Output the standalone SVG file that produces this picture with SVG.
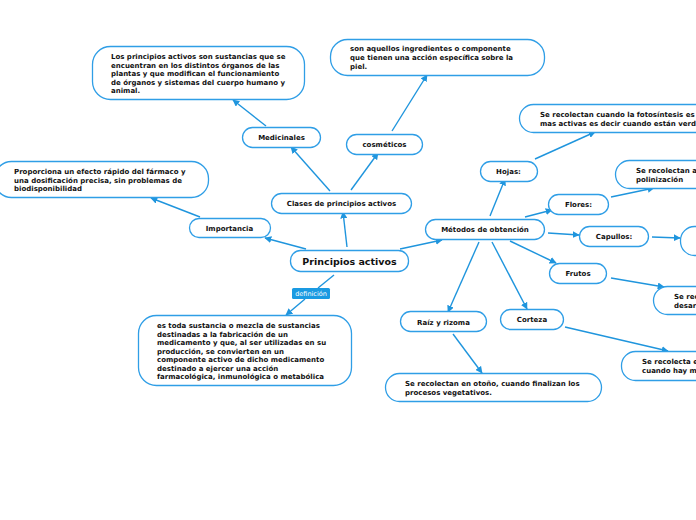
<svg xmlns="http://www.w3.org/2000/svg" width="696" height="520" viewBox="0 0 696 520">
<defs>
<marker id="ah" viewBox="0 0 10 10" refX="9" refY="5" markerWidth="7" markerHeight="7" markerUnits="userSpaceOnUse" orient="auto">
<path d="M0,0 L10,5 L0,10 z" fill="#1f95dd"/>
</marker>
<style>
.n{fill:#fff;stroke:#2f9ee6;stroke-width:1.3}
.t{font-family:"DejaVu Sans",Verdana,sans-serif;font-weight:bold;font-size:7px;fill:#111}
.c{text-anchor:middle}
.e{fill:none;stroke:#1f95dd;stroke-width:1.4;marker-end:url(#ah)}
</style>
</defs>
<rect width="696" height="520" fill="#fff"/>
<g id="connectors">
<line class="e" x1="347" y1="247" x2="343" y2="212"/>
<line class="e" x1="306" y1="249" x2="265" y2="238"/>
<line class="e" x1="400" y1="249" x2="442" y2="240"/>
<line x1="334" y1="275" x2="318" y2="288" stroke="#1f95dd" stroke-width="1.4"/>
<line class="e" x1="305" y1="299" x2="286" y2="315"/>
<line class="e" x1="330" y1="191" x2="291" y2="147"/>
<line class="e" x1="351" y1="190" x2="378" y2="153"/>
<line class="e" x1="266" y1="126" x2="233" y2="100"/>
<line class="e" x1="392" y1="131" x2="427" y2="75"/>
<line class="e" x1="200" y1="217" x2="151" y2="198"/>
<line class="e" x1="490" y1="216" x2="505" y2="179"/>
<line class="e" x1="535" y1="159" x2="595" y2="132"/>
<line class="e" x1="525" y1="217" x2="552" y2="210"/>
<line class="e" x1="611" y1="197" x2="654" y2="188"/>
<line class="e" x1="548" y1="233" x2="579" y2="235"/>
<line class="e" x1="652" y1="237" x2="680" y2="238"/>
<line class="e" x1="510" y1="241" x2="556" y2="263"/>
<line class="e" x1="611" y1="278" x2="664" y2="287"/>
<line class="e" x1="479" y1="242" x2="448" y2="312"/>
<line class="e" x1="492" y1="242" x2="527" y2="309"/>
<line class="e" x1="453" y1="334" x2="482" y2="373"/>
<line class="e" x1="565" y1="327" x2="668" y2="351"/>
</g>
<g id="principios">
<rect class="n" x="290.5" y="250.5" width="118" height="21" rx="10"/>
<text class="t c" x="349.5" y="265" style="font-size:9.5px">Principios activos</text>
</g>
<g id="definicion-label">
<rect x="292" y="288" width="38" height="11" rx="1.5" fill="#1a9ae2"/>
<text x="311" y="296" text-anchor="middle" font-family="DejaVu Sans,sans-serif" font-size="6.5" fill="#fff">definición</text>
</g>
<g id="clases">
<rect class="n" x="271.5" y="193.5" width="140" height="20" rx="10"/>
<text class="t c" x="341.5" y="206">Clases de principios activos</text>
</g>
<g id="medicinales">
<rect class="n" x="242.5" y="127.5" width="78" height="20" rx="10"/>
<text class="t c" x="281.5" y="140">Medicinales</text>
</g>
<g id="cosmeticos">
<rect class="n" x="346.5" y="134.5" width="76" height="20" rx="10"/>
<text class="t c" x="384.5" y="147">cosméticos</text>
</g>
<g id="medicinales-desc">
<rect class="n" x="92.5" y="46.5" width="212" height="53" rx="18"/>
<text class="t" x="111" y="59">Los principios activos son sustancias que se</text>
<text class="t" x="111" y="67.5">encuentran en los distintos órganos de las</text>
<text class="t" x="111" y="76">plantas y que modifican el funcionamiento</text>
<text class="t" x="111" y="84.5">de órganos y sistemas del cuerpo humano y</text>
<text class="t" x="111" y="93">animal.</text>
</g>
<g id="cosmeticos-desc">
<rect class="n" x="330.5" y="39.5" width="214" height="36" rx="17"/>
<text class="t" x="350" y="51">son aquellos ingredientes o componente</text>
<text class="t" x="350" y="60">que tienen una acción específica sobre la</text>
<text class="t" x="350" y="69">piel.</text>
</g>
<g id="importancia">
<rect class="n" x="189.5" y="218.5" width="81" height="19" rx="9.5"/>
<text class="t c" x="229.5" y="231">Importancia</text>
</g>
<g id="importancia-desc">
<rect class="n" x="-5.5" y="161.5" width="214" height="36" rx="17"/>
<text class="t" x="14" y="174">Proporciona un efecto rápido del fármaco y</text>
<text class="t" x="14" y="182.5">una dosificación precisa, sin problemas de</text>
<text class="t" x="14" y="191">biodisponibilidad</text>
</g>
<g id="definicion-desc">
<rect class="n" x="138.5" y="315.5" width="213" height="70" rx="18"/>
<text class="t" x="157" y="328">es toda sustancia o mezcla de sustancias</text>
<text class="t" x="157" y="336.5">destinadas a la fabricación de un</text>
<text class="t" x="157" y="345">medicamento y que, al ser utilizadas en su</text>
<text class="t" x="157" y="353.5">producción, se convierten en un</text>
<text class="t" x="157" y="362">componente activo de dicho medicamento</text>
<text class="t" x="157" y="370.5">destinado a ejercer una acción</text>
<text class="t" x="157" y="379">farmacológica, inmunológica o metabólica</text>
</g>
<g id="metodos">
<rect class="n" x="425.5" y="219.5" width="119" height="20" rx="10"/>
<text class="t c" x="485" y="232">Métodos de obtención</text>
</g>
<g id="hojas">
<rect class="n" x="480.5" y="161.5" width="57" height="20" rx="10"/>
<text class="t c" x="508.5" y="174">Hojas:</text>
</g>
<g id="hojas-desc">
<rect class="n" x="519.5" y="104.5" width="200" height="28" rx="14"/>
<text class="t" x="540" y="117">Se recolectan cuando la fotosíntesis es más</text>
<text class="t" x="540" y="126">mas activas es decir cuando están verdes</text>
</g>
<g id="flores">
<rect class="n" x="548.5" y="194.5" width="60" height="20" rx="10"/>
<text class="t c" x="578.5" y="207">Flores:</text>
</g>
<g id="flores-desc">
<rect class="n" x="615.5" y="160.5" width="120" height="28" rx="14"/>
<text class="t" x="636" y="173">Se recolectan antes de la</text>
<text class="t" x="636" y="182">polinización</text>
</g>
<g id="capullos">
<rect class="n" x="579.5" y="226.5" width="69" height="20" rx="10"/>
<text class="t c" x="614" y="239">Capullos:</text>
</g>
<g id="capullos-desc">
<rect class="n" x="680.5" y="226.5" width="60" height="29" rx="14"/>
</g>
<g id="frutos">
<rect class="n" x="549.5" y="263.5" width="57" height="20" rx="10"/>
<text class="t c" x="578" y="276">Frutos</text>
</g>
<g id="frutos-desc">
<rect class="n" x="653.5" y="286.5" width="120" height="28" rx="14"/>
<text class="t" x="674" y="299">Se recolectan</text>
<text class="t" x="674" y="308">desarrollados</text>
</g>
<g id="raiz">
<rect class="n" x="400.5" y="311.5" width="86" height="20" rx="10"/>
<text class="t c" x="443.5" y="324.5">Raíz y rizoma</text>
</g>
<g id="corteza">
<rect class="n" x="500.5" y="309.5" width="63" height="20" rx="10"/>
<text class="t c" x="532" y="322">Corteza</text>
</g>
<g id="raiz-desc">
<rect class="n" x="385.5" y="373.5" width="216" height="28" rx="14"/>
<text class="t" x="405" y="385.5">Se recolectan en otoño, cuando finalizan los</text>
<text class="t" x="405" y="394.5">procesos vegetativos.</text>
</g>
<g id="corteza-desc">
<rect class="n" x="621.5" y="351.5" width="120" height="29" rx="14"/>
<text class="t" x="642" y="364">Se recolecta en</text>
<text class="t" x="642" y="373">cuando hay mucha</text>
</g>
</svg>
